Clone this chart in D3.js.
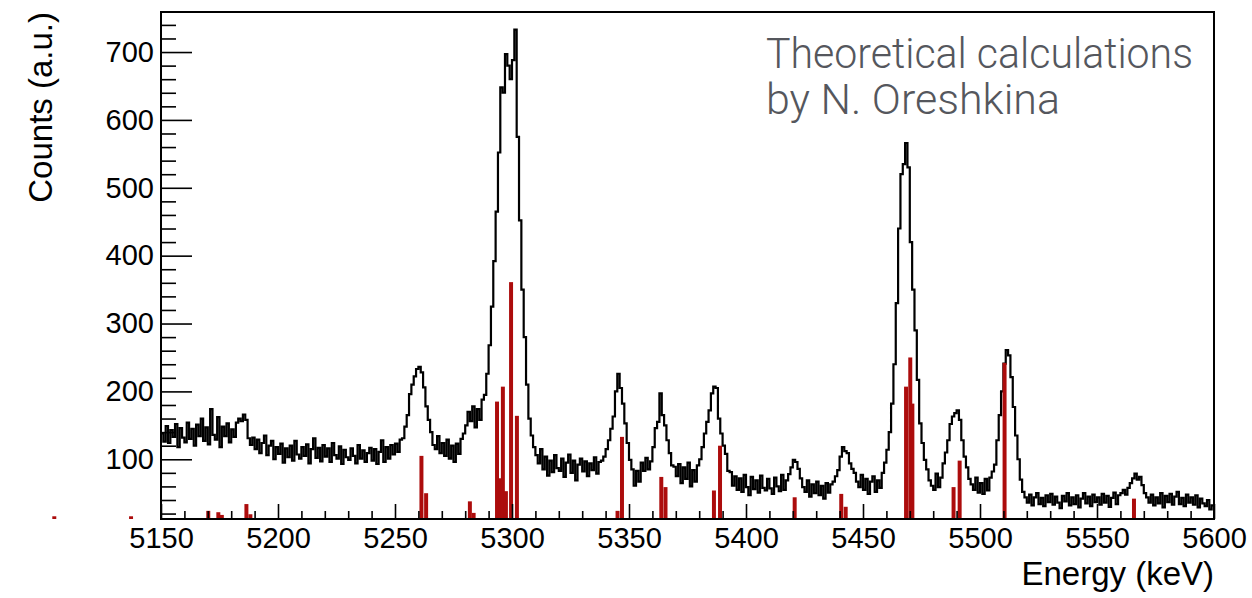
<!DOCTYPE html>
<html>
<head>
<meta charset="utf-8">
<script src="https://cdn.jsdelivr.net/npm/d3@7"></script>
<style>
  html, body { margin: 0; padding: 0; background: #fff; }
  svg { display: block; }
  .tick text { font-family: "Liberation Sans", Arial, Helvetica, sans-serif; }
</style>
</head>
<body>
<svg id="chart" width="1252" height="598"></svg>
<script>
// Measured spectrum: counts per 1 keV bin, first bin starts at 5150 keV
const binStart = 5150;
const binWidth = 1;
const counts = [
  138, 126, 149, 124, 143, 133, 152, 118, 146, 132,   // 5150
  125, 154, 130, 145, 120, 151, 134, 160, 127, 147,   // 5160
  122, 174, 136, 129, 162, 118, 148, 134, 153, 125,   // 5170
  144, 133, 154, 160, 156, 166, 158, 131, 121, 132,   // 5180
  115, 129, 109, 124, 135, 106, 120, 127, 100, 118,   // 5190
  108, 123,  95, 116, 103, 120,  98, 127, 107, 101,   // 5200
  118, 105, 122,  94, 115, 131, 102, 117,  97, 121,   // 5210
  104, 116,  96, 124, 106, 101, 119,  93, 114, 103,   // 5220
   99, 116, 105,  94, 121, 101, 113,  96, 109, 117,   // 5230
   98, 115,  93, 111, 128,  96, 118, 101, 121, 107,   // 5240
  123, 111, 129, 131, 148, 165, 196, 210, 222, 233,   // 5250
  236, 228, 206, 178, 158, 140, 121, 115, 134, 109,   // 5260
  124, 105, 129, 101, 120,  96, 123, 108, 130, 138,   // 5270
  150, 170, 156, 178, 147, 174, 158, 188, 195, 226,   // 5280
  268, 325, 392, 465, 552, 648, 640, 697, 680, 660,   // 5290
  688, 733, 575, 452, 350, 280, 210, 160, 135, 118,   // 5300
  106,  94, 115,  85, 104,  76,  98,  81, 106,  87,   // 5310
   83, 101,  74,  95, 107,  80,  98,  69,  92, 101,   // 5320
   82,  97,  75,  94,  84, 103,  79,  96,  98, 104,   // 5330
  115, 128, 145, 163, 200, 226, 205, 182, 153, 124,   // 5340
   99,  85,  61,  83,  67,  95,  83, 102,  85,  97,   // 5350
  118, 146, 155, 197, 165, 150, 128, 109,  91,  89,   // 5360
   75,  93,  65,  88,  71,  95,  60,  84,  67,  91,   // 5370
  100, 118, 138, 155, 172, 197, 207, 205, 160, 138,   // 5380
  120, 108,  83,  81,  61,  75,  55,  72,  52,  77,   // 5390
   59,  47,  74,  56,  69,  51,  76,  58,  54,  71,   // 5400
   57,  49,  73,  60,  53,  77,  55,  69,  78,  88,   // 5410
   99,  96,  86,  72,  59,  52,  69,  45,  63,  50,   // 5420
   67,  47,  61,  42,  65,  51,  63,  67,  75,  84,   // 5430
  104, 118, 112, 109,  94,  86,  80,  67,  59,  77,   // 5440
   55,  71,  49,  67,  75,  52,  69,  58,  80,  95,   // 5450
  114, 140, 182, 240, 330, 440, 520, 535, 566, 530,   // 5460
  420, 350, 290, 217, 153, 124,  99,  85,  69,  61,   // 5470
   55,  79,  59,  73,  94, 110, 128, 152, 163, 168,   // 5480
  172, 158, 128, 104,  88,  71,  63,  55,  73,  51,   // 5490
   65,  49,  71,  54,  73,  82,  92, 128, 165, 200,   // 5500
  241, 261, 253, 221, 177, 135, 100,  70,  52,  44,   // 5510
   36,  48,  32,  44,  50,  34,  43,  31,  47,  37,   // 5520
   49,  33,  45,  36,  28,  46,  38,  50,  32,  44,   // 5530
   34,  47,  29,  42,  50,  35,  45,  31,  48,  37,   // 5540
   44,  33,  49,  36,  46,  30,  43,  51,  34,  47,   // 5550
   50,  55,  48,  58,  65,  72,  79,  70,  74,  62,   // 5560
   50,  44,  36,  48,  32,  44,  35,  50,  29,  46,   // 5570
   37,  49,  33,  45,  52,  34,  43,  31,  48,  36,   // 5580
   44,  33,  47,  29,  42,  35,  31,  40,  26,  32    // 5590
];

// Calculated line positions (keV) and intensities (a.u.)
const lineEnergies = [
  5104.4, 5137.2, 5170.2, 5174.5, 5176.0, 5186.5, 5188.2,
  5261.3, 5263.3, 5282.0, 5283.6,
  5293.6, 5295.1, 5296.1, 5297.4, 5299.6, 5302.1,
  5345.1, 5347.0, 5363.8, 5365.6, 5386.3, 5388.9,
  5420.8, 5440.7, 5442.6,
  5468.4, 5470.2, 5471.1, 5488.7, 5491.3,
  5510.5, 5565.8
];
const lineIntensities = [
  16, 16, 24, 22, 18, 34, 19,
  105, 50, 38, 21,
  185, 72, 207, 53, 361, 164,
  24, 133, 74, 59, 54, 120,
  44, 49, 30,
  207, 250, 182, 59, 98,
  242, 42
];
const lineWidthKeV = 1.7;

// Axis ranges and ticks
const xDomain = [5150, 5600];
const yDomain = [12, 759];
const xMajorTicks = [5150, 5200, 5250, 5300, 5350, 5400, 5450, 5500, 5550, 5600];
const yMajorTicks = [100, 200, 300, 400, 500, 600, 700];

const xTitle = "Energy (keV)";
const yTitle = "Counts (a.u.)";
const noteLines = ["Theoretical calculations", "by N. Oreshkina"];
const noteWidths = [427, 294];

// ---------------------------------------------------------------
const svg = d3.select("#chart");
const frame = { left: 161, right: 1214, top: 12, bottom: 519 };

const x = d3.scaleLinear().domain(xDomain).range([frame.left, frame.right]);
const y = d3.scaleLinear().domain(yDomain).range([frame.bottom, frame.top]);

const xMinorTicks = d3.range(xDomain[0], xDomain[1] + 1, 10).filter(v => v % 50 !== 0);
const yMinorTicks = d3.range(20, yDomain[1], 20).filter(v => v % 100 !== 0);

// Step outline of the measured spectrum
const steps = counts.map((c, i) => [binStart + i * binWidth, c]);
steps.push([binStart + counts.length * binWidth, counts[counts.length - 1]]);

const stepLine = d3.line()
  .x(d => x(d[0]))
  .y(d => y(d[1]))
  .curve(d3.curveStepAfter);

svg.append("path")
  .datum(steps)
  .attr("d", stepLine)
  .attr("fill", "none")
  .attr("stroke", "#000")
  .attr("stroke-width", 2.2)
  .attr("stroke-linejoin", "miter");

// Calculated lines as thin red bars standing on the bottom axis
svg.append("g")
  .selectAll("rect")
  .data(lineEnergies.map((e, i) => ({ e, v: lineIntensities[i] })))
  .join("rect")
  .attr("x", d => x(d.e - lineWidthKeV / 2))
  .attr("width", d => x(d.e + lineWidthKeV / 2) - x(d.e - lineWidthKeV / 2))
  .attr("y", d => y(d.v))
  .attr("height", d => frame.bottom - y(d.v))
  .attr("fill", "#ac0c0c");

// Axes: ticks point into the frame
function styleAxis(g) {
  g.select(".domain").remove();
  g.selectAll(".tick line").attr("stroke", "#000").attr("stroke-width", 1.6);
}

svg.append("g")
  .attr("transform", `translate(${frame.left},0)`)
  .call(d3.axisLeft(y).tickValues(yMinorTicks).tickSize(-15).tickFormat(""))
  .call(styleAxis);

svg.append("g")
  .attr("transform", `translate(${frame.left},0)`)
  .call(d3.axisLeft(y).tickValues(yMajorTicks).tickSize(-31).tickPadding(7).tickFormat(d3.format("d")))
  .call(styleAxis)
  .call(g => g.selectAll(".tick text")
    .attr("font-size", 29).attr("fill", "#000"));

svg.append("g")
  .attr("transform", `translate(0,${frame.bottom})`)
  .call(d3.axisBottom(x).tickValues(xMinorTicks).tickSize(-8).tickFormat(""))
  .call(styleAxis);

svg.append("g")
  .attr("transform", `translate(0,${frame.bottom})`)
  .call(d3.axisBottom(x).tickValues(xMajorTicks).tickSize(-15).tickPadding(8).tickFormat(d3.format("d")))
  .call(styleAxis)
  .call(g => g.selectAll(".tick text")
    .attr("font-size", 29).attr("fill", "#000"));

// Frame
svg.append("rect")
  .attr("x", frame.left)
  .attr("y", frame.top)
  .attr("width", frame.right - frame.left)
  .attr("height", frame.bottom - frame.top)
  .attr("fill", "none")
  .attr("stroke", "#000")
  .attr("stroke-width", 2);

// Axis titles
svg.append("text")
  .attr("x", frame.right)
  .attr("y", 585)
  .attr("text-anchor", "end")
  .attr("font-family", "'Liberation Sans', Arial, Helvetica, sans-serif")
  .attr("font-size", 33)
  .attr("fill", "#000")
  .text(xTitle);

svg.append("text")
  .attr("transform", `translate(51.5,${frame.top}) rotate(-90)`)
  .attr("text-anchor", "end")
  .attr("font-family", "'Liberation Sans', Arial, Helvetica, sans-serif")
  .attr("font-size", 33)
  .attr("fill", "#000")
  .text(yTitle);

// Note in the upper right corner
svg.append("g")
  .selectAll("text")
  .data(noteLines)
  .join("text")
  .attr("x", 766)
  .attr("y", (d, i) => 68 + i * 46)
  .attr("font-family", "Roboto, 'Noto Sans', sans-serif")
  .attr("font-weight", 300)
  .attr("font-size", 43)
  .attr("textLength", (d, i) => noteWidths[i])
  .attr("lengthAdjust", "spacingAndGlyphs")
  .attr("fill", "#55575d")
  .text(d => d);
</script>
</body>
</html>
